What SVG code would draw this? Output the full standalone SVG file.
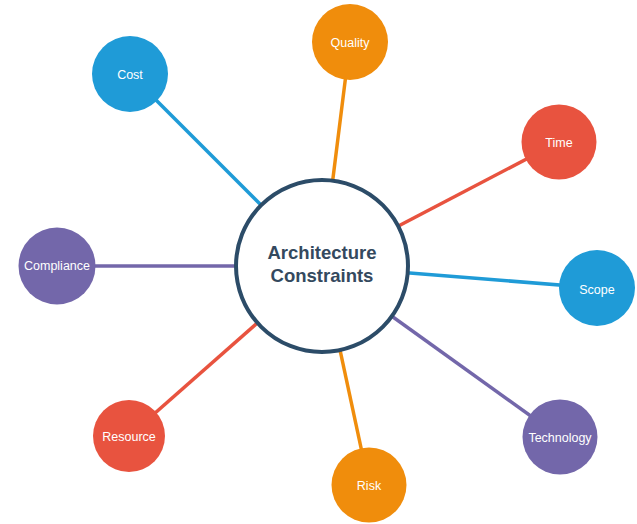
<svg xmlns="http://www.w3.org/2000/svg" width="637" height="524" viewBox="0 0 637 524">
<style>
.lbl{font-family:"Liberation Sans",Arial,sans-serif;font-size:12.5px;fill:#ffffff;text-anchor:middle}
.main{font-family:"Liberation Sans",Arial,sans-serif;font-size:18.5px;font-weight:bold;fill:#34495e;text-anchor:middle}
.c{stroke-width:3.5;fill:none}
.blue{fill:#1f9bd7}.orange{fill:#f08d0c}.red{fill:#e8533f}.purple{fill:#7367aa}
</style>
<rect width="637" height="524" fill="#ffffff"/>
<g id="connectors" class="c">
<line x1="322" y1="266" x2="130" y2="74" stroke="#1f9bd7"/>
<line x1="322" y1="266" x2="350" y2="42" stroke="#f08d0c"/>
<line x1="322" y1="266" x2="559" y2="142" stroke="#e8533f"/>
<line x1="322" y1="266" x2="597" y2="288" stroke="#1f9bd7"/>
<line x1="322" y1="266" x2="560" y2="437" stroke="#7367aa"/>
<line x1="322" y1="266" x2="369" y2="485" stroke="#f08d0c"/>
<line x1="322" y1="266" x2="129" y2="436" stroke="#e8533f"/>
<line x1="322" y1="266" x2="57" y2="266" stroke="#7367aa"/>
</g>
<g id="center">
<circle cx="322" cy="266" r="86" fill="#ffffff" stroke="#2c4c68" stroke-width="4"/>
<text class="main" x="322" y="259">Architecture</text>
<text class="main" x="322" y="282">Constraints</text>
</g>
<g id="cost"><circle class="blue" cx="130" cy="74" r="38"/><text class="lbl" x="130" y="79">Cost</text></g>
<g id="quality"><circle class="orange" cx="350" cy="42" r="38"/><text class="lbl" x="350" y="47">Quality</text></g>
<g id="time"><circle class="red" cx="559" cy="142" r="37.5"/><text class="lbl" x="559" y="147">Time</text></g>
<g id="scope"><circle class="blue" cx="597" cy="288" r="38"/><text class="lbl" x="597" y="294">Scope</text></g>
<g id="technology"><circle class="purple" cx="560" cy="437" r="37.5"/><text class="lbl" x="560" y="442">Technology</text></g>
<g id="risk"><circle class="orange" cx="369" cy="485" r="37.5"/><text class="lbl" x="369" y="490">Risk</text></g>
<g id="resource"><circle class="red" cx="129" cy="436" r="36"/><text class="lbl" x="129" y="441">Resource</text></g>
<g id="compliance"><circle class="purple" cx="57" cy="266" r="38.5"/><text class="lbl" x="57" y="270">Compliance</text></g>
</svg>
